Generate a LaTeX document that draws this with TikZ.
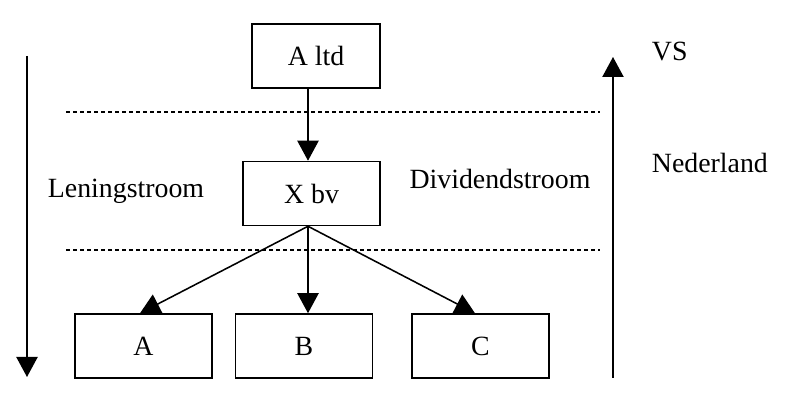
\documentclass[tikz,border=0pt]{standalone}
\usepackage{fontspec}
\setmainfont{Liberation Serif}
\usetikzlibrary{arrows.meta,calc}
\tikzset{
  box/.style={draw,line width=1.1pt,minimum width=34.25mm,minimum height=16mm,inner sep=0pt},
  lbl/.style={font=\fontsize{19.8}{24}\selectfont},
  arr/.style={line width=1.1pt,-{Triangle[length=5mm,width=5.3mm]}},
  border/.style={line width=0.8pt,dash pattern=on 1mm off 0.75mm}
}
\begin{document}
\begin{tikzpicture}[x=0.25mm,y=-0.25mm]
  \useasboundingbox (0,0) rectangle (800,418);
  % companies
  \node[box,lbl,minimum width=32mm] (altd) at (316,56) {A ltd};
  \node[box,lbl] (xbv) at (311.5,193.5) {X bv};
  \node[box,lbl] (a) at (143.5,346) {A};
  \node[box,lbl] (b) at (304,346) {B};
  \node[box,lbl] (c) at (480.5,346) {C};
  % borders between countries
  \draw[border] (66,112)--(600,112);
  \draw[border] (66,250)--(600,250);
  % flows
  \draw[arr] ($(altd.south)+(-8,0)$)--($(xbv.north)+(-3.5,0)$);
  \draw[arr] ($(xbv.south)+(-3.5,0)$)--($(a.north)+(-3.5,0)$);
  \draw[arr] ($(xbv.south)+(-3.5,0)$)--($(b.north)+(4,0)$);
  \draw[arr] ($(xbv.south)+(-3.5,0)$)--($(c.north)+(-5.5,0)$);
  \draw[arr] (27,56)--(27,377);
  \draw[arr] (613,378)--(613,57);
  % labels
  \node[lbl,anchor=base] (lening) at (126,198) {Leningstroom};
  \node[lbl,anchor=base] (divid) at (500,189) {Dividendstroom};
  \node[lbl,anchor=base west] (vs) at (647,61) {VS};
  \node[lbl,anchor=base west] (nl) at (647,173) {Nederland};
\end{tikzpicture}
\end{document}
